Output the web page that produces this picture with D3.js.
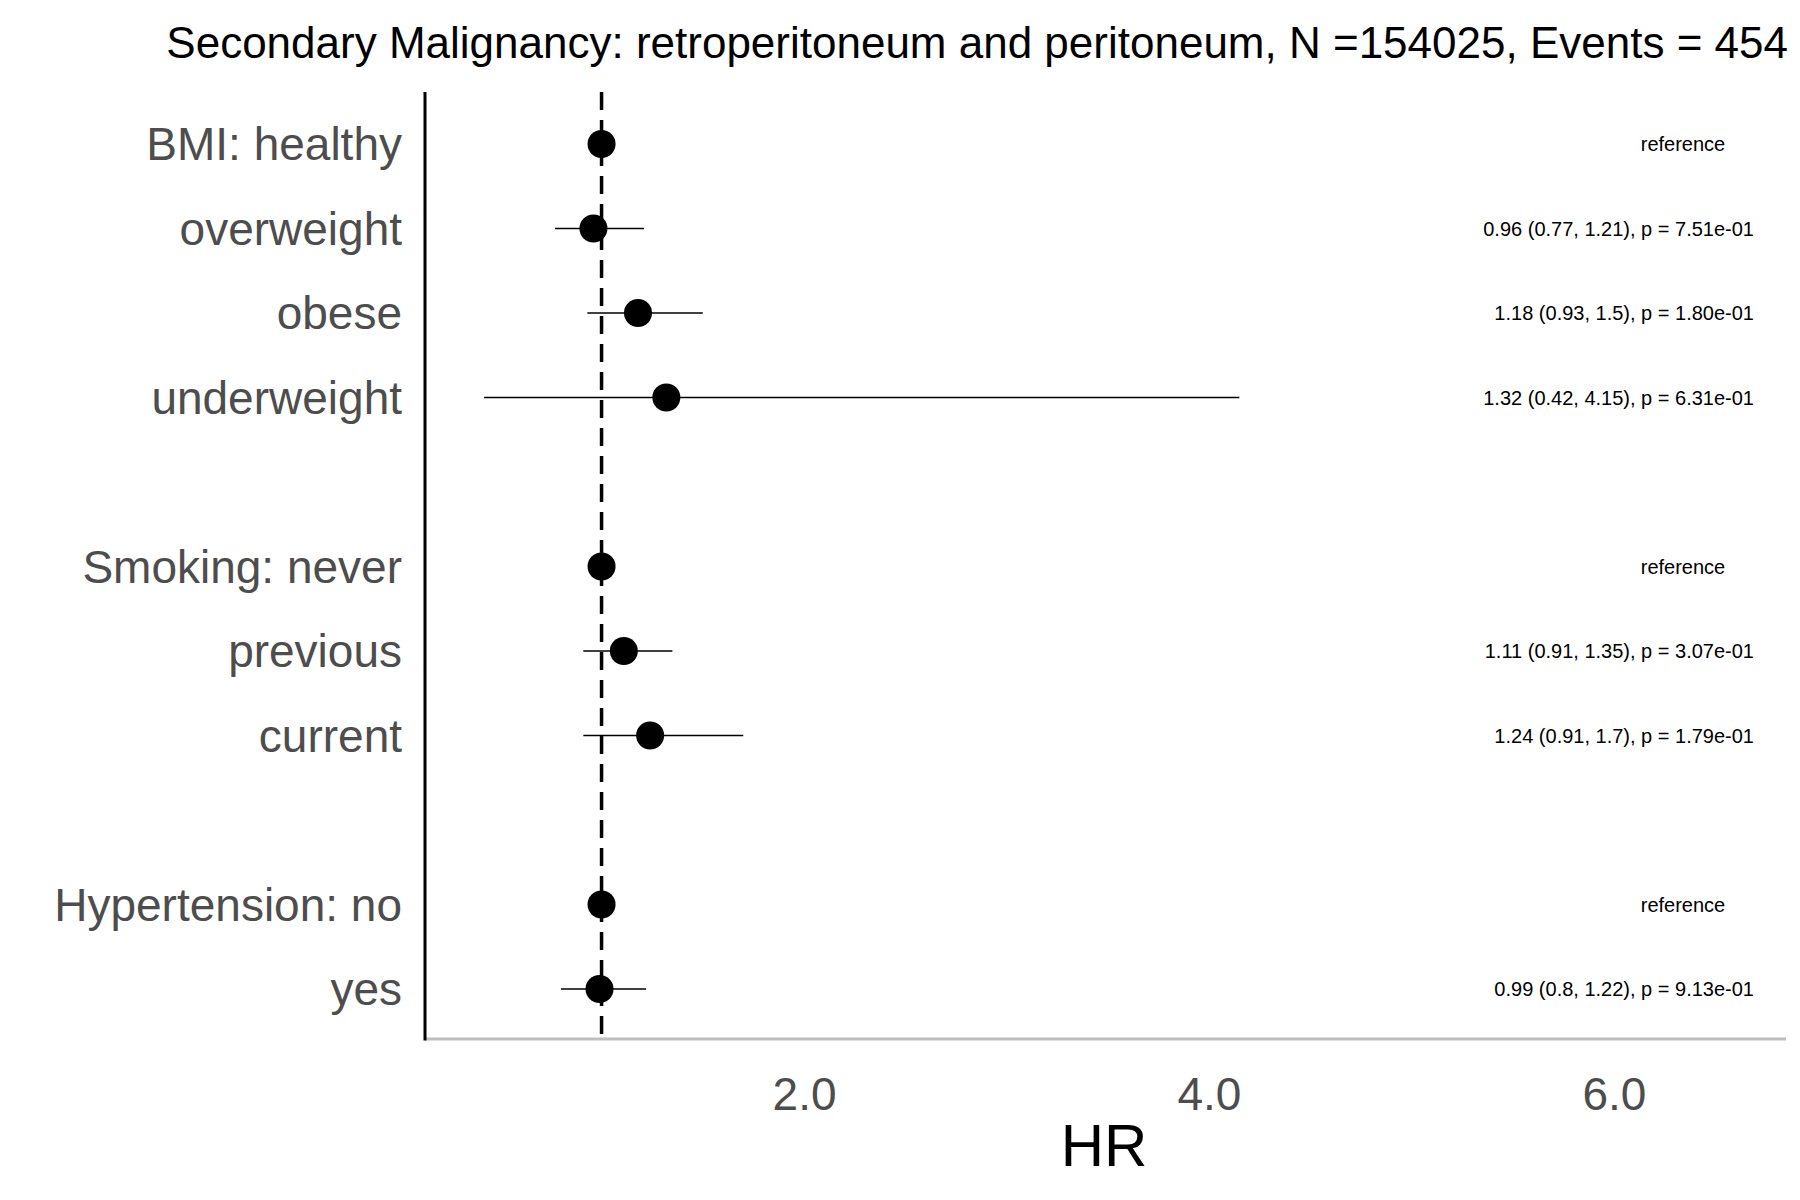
<!DOCTYPE html>
<html><head><meta charset="utf-8">
<script src="https://cdn.jsdelivr.net/npm/d3@7"></script>
<style>body{margin:0;background:#fff}text{font-family:"Liberation Sans",Arial,sans-serif}</style>
</head><body><svg id="c" width="1800" height="1200"></svg>
<script>
const labels = ["BMI: healthy","overweight","obese","underweight","Smoking: never","previous","current","Hypertension: no","yes"];
const rowIndex = [0,1,2,3,5,6,7,9,10];
const hr = [1,0.96,1.18,1.32,1,1.11,1.24,1,0.99];
const lo = [null,0.77,0.93,0.42,null,0.91,0.91,null,0.8];
const hi = [null,1.21,1.5,4.15,null,1.35,1.7,null,1.22];
const notes = ["reference","0.96 (0.77, 1.21), p = 7.51e-01","1.18 (0.93, 1.5), p = 1.80e-01","1.32 (0.42, 4.15), p = 6.31e-01","reference","1.11 (0.91, 1.35), p = 3.07e-01","1.24 (0.91, 1.7), p = 1.79e-01","reference","0.99 (0.8, 1.22), p = 9.13e-01"];
const xTicks = [2,4,6];
const title = "Secondary Malignancy: retroperitoneum and peritoneum, N =154025, Events = 454";

const svg = d3.select("#c");
const x = d3.scaleLinear().domain([0.128,6.85]).range([425,1786]);
const y = d3.scaleLinear().domain([0,10]).range([144,989]);
const plotTop=92, plotBottom=1039;

svg.append("text").attr("x",1788).attr("y",58).attr("text-anchor","end").attr("font-size",44).attr("fill","#000").text(title);

svg.append("line").attr("x1",x.range()[0]).attr("x2",x.range()[1]).attr("y1",plotBottom).attr("y2",plotBottom).attr("stroke","#bebebe").attr("stroke-width",3);
svg.append("line").attr("x1",425).attr("x2",425).attr("y1",plotTop).attr("y2",plotBottom+1.5).attr("stroke","#000").attr("stroke-width",3);
const xa = svg.append("g").attr("transform",`translate(0,${plotBottom})`).call(d3.axisBottom(x).tickValues(xTicks).tickSize(0).tickPadding(38));
xa.select(".domain").remove();
xa.selectAll("text").attr("font-size",46).attr("fill","#4d4d4d").attr("font-family","Liberation Sans, Arial, sans-serif");
svg.append("text").attr("x",1104).attr("y",1166).attr("text-anchor","middle").attr("font-size",60).attr("fill","#000").text("HR");

svg.append("line").attr("x1",x(1)).attr("x2",x(1)).attr("y1",plotTop).attr("y2",plotBottom).attr("stroke","#000").attr("stroke-width",3.5).attr("stroke-dasharray","18,10");

const g = svg.append("g");
labels.forEach((l,i)=>{
  const yy = y(rowIndex[i]);
  g.append("text").attr("x",402).attr("y",yy).attr("dy","0.35em").attr("text-anchor","end").attr("font-size",46).attr("fill","#4d4d4d").text(l);
  if(lo[i]!=null) g.append("line").attr("x1",x(lo[i])).attr("x2",x(hi[i])).attr("y1",yy).attr("y2",yy).attr("stroke","#000").attr("stroke-width",1.6);
  g.append("circle").attr("cx",x(hr[i])).attr("cy",yy).attr("r",14).attr("fill","#000");
  const isRef = notes[i]==="reference";
  g.append("text").attr("x",isRef?1683:1754).attr("y",yy).attr("dy","0.35em").attr("text-anchor",isRef?"middle":"end").attr("font-size",20).attr("fill","#000").text(notes[i]);
});
</script></body></html>
